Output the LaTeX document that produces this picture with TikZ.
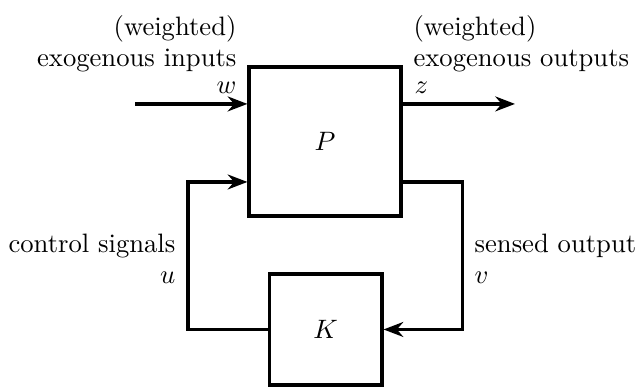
\documentclass[tikz,border=0pt]{standalone}
\usepackage{xcolor}
\usetikzlibrary{arrows.meta,positioning}

\begin{document}
\begin{tikzpicture}[
  >={Stealth[length=7.4pt,width=5.6pt]},
  line width=1.2pt,
  block/.style={rectangle, draw, inner sep=0pt, align=center},
  lbl/.style={inner sep=0pt},
  signal/.style={->, line width=1.2pt}
]
  \useasboundingbox (0,0) rectangle (8.395,5.108);
  \node[block, minimum width=2.006cm, minimum height=1.967cm] (P) at (4.29,3.241) {$P$};
  \node[block, minimum width=1.49cm, minimum height=1.465cm] (K) at (4.297,0.759) {$K$};
  \coordinate (win) at (1.782,3.736);
  \coordinate (zout) at (6.798,3.736);
  \coordinate (ucorner) at (2.482,2.706);
  \coordinate (vcorner) at (6.105,2.706);
  \node[lbl, anchor=north east, align=right] (inlbl) at (3.142,4.93) {(weighted)\\exogenous inputs};
  \node[lbl, anchor=north west, align=left] (outlbl) at (5.438,4.93) {(weighted)\\exogenous outputs};
  \node[lbl, anchor=south east] (wlbl) at (3.142,3.854) {$w$};
  \node[lbl, anchor=south west] (zlbl) at (5.451,3.854) {$z$};
  \node[lbl, anchor=north east, align=right] (ulbl) at (2.336,2.046) {control signals\\$u$};
  \node[lbl, anchor=north west, align=left] (vlbl) at (6.244,2.046) {sensed output\\$v$};
  \draw[signal] (win) -- (win -| P.west);
  \draw[signal] (zout -| P.east) -- (zout);
  \draw[signal] (K.west) -| (ucorner) -- (ucorner -| P.west);
  \draw[signal] (vcorner -| P.east) -- (vcorner) |- (K.east);
\end{tikzpicture}
\end{document}
